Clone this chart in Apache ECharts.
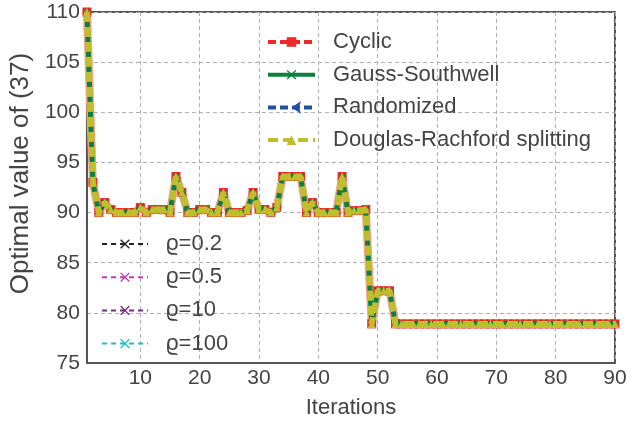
<!DOCTYPE html>
<html>
<head>
<meta charset="utf-8">
<script src="https://cdn.jsdelivr.net/npm/echarts@6/dist/echarts.min.js"></script>
<style>html,body{margin:0;padding:0;background:#fff;}#c{width:641px;height:424px;}</style>
</head>
<body>
<div id="c"></div>
<script>
const iterations = Array.from({length: 90}, (_, i) => String(i + 1));
const objective = [
  110, 93, 90, 91, 90.3, 90, 90, 90, 90, 90.5,
  90, 90.3, 90.3, 90.3, 90, 93.6, 92, 90, 90, 90.3,
  90.3, 90, 90, 92, 90, 90, 90, 90.2, 92, 90.3,
  90.3, 90, 90.5, 93.6, 93.6, 93.6, 93.6, 90, 91, 90,
  90, 90, 90, 93.6, 90, 90.2, 90.2, 90.3, 78.9, 82.2,
  82.2, 82.2, 78.9, 78.9, 78.9, 78.9, 78.9, 78.9, 78.9, 78.9,
  78.9, 78.9, 78.9, 78.9, 78.9, 78.9, 78.9, 78.9, 78.9, 78.9,
  78.9, 78.9, 78.9, 78.9, 78.9, 78.9, 78.9, 78.9, 78.9, 78.9,
  78.9, 78.9, 78.9, 78.9, 78.9, 78.9, 78.9, 78.9, 78.9, 78.9
];
const cyclic = objective.slice();
const gaussSouthwell = objective.slice();
const randomized = objective.slice();
const douglasRachford = objective.slice();
const rho02 = objective.slice();
const rho05 = objective.slice();
const rho10 = objective.slice();
const rho100 = objective.slice();
const methodNames = ['Cyclic', 'Gauss-Southwell', 'Randomized', 'Douglas-Rachford splitting'];
const rhoNames = ['ϱ=0.2', 'ϱ=0.5', 'ϱ=10', 'ϱ=100'];
const yTicks = [75, 110, 5];

const X = 'path://M0,1L1,0L5,4L9,0L10,1L6,5L10,9L9,10L5,6L1,10L0,9L4,5Z';
const txt = '#444';
const font = 'Liberation Sans, Arial, sans-serif';
const C = {red: '#ee2a2a', green: '#0a7f3f', blue: '#2050a0', yellow: '#bfbf2e'};

function rhoSeries(name, data, color) {
  return {
    name, type: 'line', data, symbol: X, symbolSize: 7, showAllSymbol: true,
    lineStyle: {color, width: 1.5, type: [5, 4]},
    itemStyle: {color}, z: 1
  };
}

const chart = echarts.init(document.getElementById('c'), null, {renderer: 'canvas'});
chart.setOption({
  animation: false,
  backgroundColor: '#fff',
  grid: {left: 83, right: 26, top: 12, bottom: 50, show: true, borderColor: '#555', borderWidth: 2, backgroundColor: 'transparent'},
  xAxis: {
    type: 'category', data: iterations, boundaryGap: false,
    name: 'Iterations', nameLocation: 'middle', nameGap: 34,
    nameTextStyle: {fontSize: 22, color: txt, fontFamily: font},
    axisLine: {lineStyle: {color: '#555', width: 2}},
    axisTick: {show: false},
    axisLabel: {fontSize: 21, color: txt, fontFamily: font, margin: 5,
      interval: (i, v) => (+v) % 10 === 0},
    splitLine: {show: true, interval: (i, v) => (+v) % 10 === 0,
      lineStyle: {color: '#b0b0b0', type: [4, 3], width: 1}}
  },
  yAxis: {
    type: 'value', min: yTicks[0], max: yTicks[1], interval: yTicks[2],
    name: 'Optimal value of (37)', nameLocation: 'middle', nameGap: 49,
    nameTextStyle: {fontSize: 26, color: txt, fontFamily: font, padding: [0, 0, 0, 28]},
    axisLine: {show: true, lineStyle: {color: '#555', width: 2}},
    axisTick: {show: false},
    axisLabel: {fontSize: 21, color: txt, fontFamily: font, margin: 7},
    splitLine: {show: true, lineStyle: {color: '#b0b0b0', type: [4, 3], width: 1}}
  },
  legend: [
    {
      data: [
        {name: methodNames[0], lineStyle: {width: 4, color: C.red, type: [8, 4]}},
        {name: methodNames[1], lineStyle: {width: 4}},
        {name: methodNames[2], lineStyle: {width: 4}},
        {name: methodNames[3], lineStyle: {width: 4}}
      ],
      orient: 'vertical', left: 266, top: 31, padding: 0,
      itemWidth: 47, itemHeight: 12, itemGap: 10.7,
      textStyle: {fontSize: 22, color: txt, fontFamily: font, lineHeight: 21, padding: [0, 0, 0, 13]}
    },
    {
      data: rhoNames, orient: 'vertical', left: 101, top: 233, padding: 0,
      itemWidth: 46, itemHeight: 12, itemGap: 11.2,
      textStyle: {fontSize: 22, color: txt, fontFamily: font, lineHeight: 21, padding: [0, 0, 0, 13]}
    }
  ],
  series: [
    rhoSeries(rhoNames[0], rho02, '#222222'),
    rhoSeries(rhoNames[1], rho05, '#c040b0'),
    rhoSeries(rhoNames[2], rho10, '#7a2a88'),
    rhoSeries(rhoNames[3], rho100, '#20c0c0'),
    {
      name: methodNames[2], type: 'line', data: randomized, symbol: 'arrow', symbolRotate: 90, symbolSize: 4, showAllSymbol: true,
      lineStyle: {color: C.blue, width: 3, type: [8, 4]}, itemStyle: {color: C.blue}, z: 2
    },
    {
      name: methodNames[0], type: 'line', data: cyclic, symbol: 'rect', symbolSize: 9, showAllSymbol: true,
      lineStyle: {color: '#f4a090', width: 8, type: 'solid'}, itemStyle: {color: C.red}, z: 3
    },
    {
      name: methodNames[1], type: 'line', data: gaussSouthwell, symbol: X, symbolSize: 7, showAllSymbol: true,
      lineStyle: {color: C.green, width: 5}, itemStyle: {color: C.green}, z: 4
    },
    {
      name: methodNames[3], type: 'line', data: douglasRachford, symbol: 'triangle', symbolSize: 8, showAllSymbol: true,
      lineStyle: {color: C.yellow, width: 6, type: [10, 5]}, itemStyle: {color: C.yellow}, z: 5
    }
  ]
});
</script>
</body>
</html>
